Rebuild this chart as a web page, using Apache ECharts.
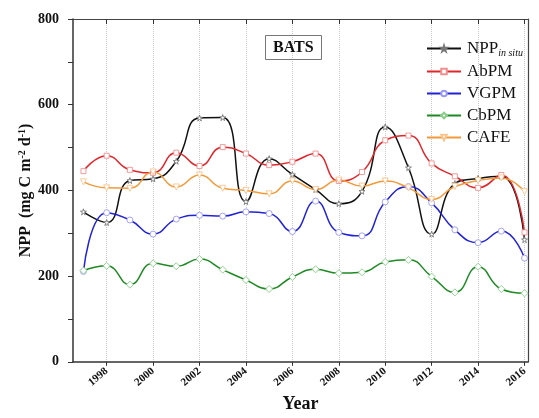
<!DOCTYPE html>
<html>
<head>
<meta charset="utf-8">
<script src="https://cdn.jsdelivr.net/npm/echarts@6/dist/echarts.min.js"></script>
<style>
  html, body { margin: 0; padding: 0; background: #fff; }
</style>
</head>
<body>
<div id="chart" style="width: 539px; height: 418px;"></div>
<script>
// data
const years = [1997, 1998, 1999, 2000, 2001, 2002, 2003, 2004, 2005, 2006,
               2007, 2008, 2009, 2010, 2011, 2012, 2013, 2014, 2015, 2016];
const tickYears = [1998, 2000, 2002, 2004, 2006, 2008, 2010, 2012, 2014, 2016];
const nppInSitu = [350, 325, 423, 427, 468, 569, 570, 374, 474, 437, 402, 369, 398, 548, 453, 298, 416, 428, 433, 285];
const abpm = [445, 481, 448, 441, 488, 457, 501, 486, 459, 467, 486, 422, 443, 517, 528, 463, 433, 406, 436, 302];
const vgpm = [211, 348, 331, 298, 333, 342, 340, 350, 346, 304, 375, 302, 294, 373, 409, 371, 308, 278, 305, 242];
const cbpm = [213, 224, 180, 230, 223, 240, 215, 191, 170, 198, 216, 207, 209, 233, 238, 199, 162, 222, 170, 160];
const cafe = [420, 406, 405, 443, 408, 436, 405, 400, 392, 422, 402, 424, 410, 422, 406, 379, 409, 423, 429, 397];

const serif = '"Liberation Serif", "Times New Roman", serif';
const starPath = 'path://M50,0 L61,35 L98,35 L68,57 L79,91 L50,70 L21,91 L32,57 L2,35 L39,35 Z';

function pairs(vals) {
  return years.map((y, i) => [y, vals[i]]);
}

function makeSeries(name, vals, color, symbol, markColor, extra) {
  return Object.assign({
    name: name,
    type: 'line',
    smooth: 0.5,
    data: pairs(vals),
    symbol: symbol,
    symbolSize: 5,
    showAllSymbol: true,
    lineStyle: { color: color, width: 1.5 },
    itemStyle: { color: '#fff', borderColor: markColor, borderWidth: 0.9 },
    emphasis: { disabled: true },
    z: 3
  }, extra || {});
}

const chart = echarts.init(document.getElementById('chart'));

const option = {
  animation: false,
  backgroundColor: '#fff',
  title: {
    text: 'BATS',
    left: 265,
    top: 35,
    borderWidth: 1,
    borderColor: '#777',
    padding: [5, 8, 4, 8],
    textStyle: { fontFamily: serif, fontWeight: 'bold', fontSize: 16, color: '#111' }
  },
  legend: {
    orient: 'vertical',
    left: 421,
    top: 35,
    itemWidth: 34,
    itemHeight: 7,
    itemGap: 5,
    data: ['NPP', 'AbPM', 'VGPM', 'CbPM', 'CAFE'],
    formatter: function (name) {
      if (name === 'NPP') return '{a|NPP}{s|in situ}';
      return '{a|' + name + '}';
    },
    textStyle: {
      fontFamily: serif,
      fontSize: 17,
      color: '#111',
      padding: [0, 0, 0, 1],
      rich: {
        a: { fontFamily: serif, fontSize: 17, color: '#111', lineHeight: 19 },
        s: { fontFamily: serif, fontSize: 10, fontStyle: 'italic', color: '#111', lineHeight: 19, verticalAlign: 'bottom', padding: [7, 0, 0, 0] }
      }
    }
  },
  grid: { left: 73, right: 11, top: 19, bottom: 55 },
  xAxis: [{
    type: 'value',
    min: 1996.55,
    max: 2016.15,
    position: 'bottom',
    name: 'Year',
    nameLocation: 'middle',
    nameGap: 32,
    nameTextStyle: { fontFamily: serif, fontWeight: 'bold', fontSize: 18, color: '#111' },
    axisLine: { show: true, onZero: false, lineStyle: { color: '#333', width: 1.5 } },
    axisTick: { show: true, length: 4, customValues: tickYears, lineStyle: { color: '#333' } },
    axisLabel: {
      customValues: tickYears,
      rotate: 40,
      margin: 8,
      fontFamily: serif,
      fontWeight: 'bold',
      fontSize: 11,
      color: '#111',
      formatter: v => String(v)
    },
    splitLine: { show: true, lineStyle: { color: '#c8c8c8', type: 'dotted', width: 1 } }
  }, {
    type: 'value',
    min: 1996.55,
    max: 2016.15,
    position: 'top',
    axisLine: { show: true, onZero: false, lineStyle: { color: '#444', width: 1.2 } },
    axisTick: { show: true, inside: true, length: 5, customValues: tickYears, lineStyle: { color: '#333' } },
    axisLabel: { show: false },
    splitLine: { show: false }
  }],
  yAxis: [{
    type: 'value',
    min: 0,
    max: 800,
    interval: 200,
    name: 'NPP  (mg C m{sup|-2} d{sup|-1})',
    nameLocation: 'middle',
    nameGap: 38,
    nameMoveOverlap: false,
    nameRotate: 90,
    nameTextStyle: {
      fontFamily: serif, fontWeight: 'bold', fontSize: 16, color: '#111',
      rich: {
        sup: { fontFamily: serif, fontWeight: 'bold', fontSize: 10, color: '#111', verticalAlign: 'top', padding: [0, 0, 8, 0] }
      }
    },
    axisLine: { show: true, lineStyle: { color: '#333', width: 1.5 } },
    axisTick: { show: true, length: 5, lineStyle: { color: '#333' } },
    minorTick: { show: true, splitNumber: 2, length: 5, lineStyle: { color: '#333' } },
    axisLabel: { fontFamily: serif, fontWeight: 'bold', fontSize: 14, color: '#111', margin: 14 },
    splitLine: { show: false }
  }, {
    type: 'value',
    min: 0,
    max: 800,
    interval: 200,
    position: 'right',
    axisLine: { show: true, lineStyle: { color: '#444', width: 1.2 } },
    axisTick: { show: false },
    axisLabel: { show: false },
    splitLine: { show: false }
  }],
  series: [
    makeSeries('NPP', nppInSitu, '#111111', starPath, '#777777', { symbolSize: 6 }),
    makeSeries('AbPM', abpm, '#e0262b', 'rect', '#f09090'),
    makeSeries('VGPM', vgpm, '#2222d6', 'circle', '#9a9af2', { symbolSize: 6 }),
    makeSeries('CbPM', cbpm, '#1f8a24', 'diamond', '#88cc88', { symbolSize: 7 }),
    makeSeries('CAFE', cafe, '#f29a3a', 'triangle', '#f7c590', { symbolRotate: 180, symbolSize: 6 })
  ]
};

chart.setOption(option);
</script>
</body>
</html>
